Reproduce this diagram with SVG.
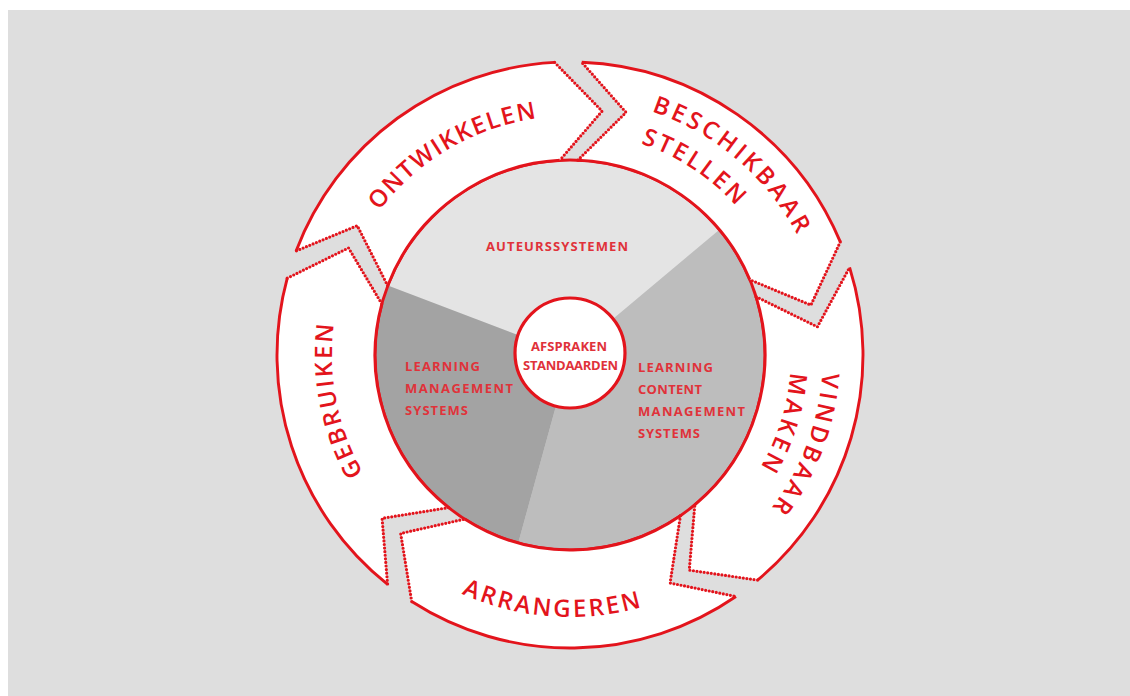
<svg xmlns="http://www.w3.org/2000/svg" width="1130" height="696" viewBox="0 0 1130 696">
  <style>
    .bg { fill: #dedede; }
    .body { fill: #ffffff; }
    .edge { fill: none; stroke: #e3141c; stroke-width: 2.9; }
    .dots { fill: none; stroke: #e3141c; stroke-width: 3.2; stroke-linecap: round; stroke-dasharray: 0 3.6; }
    .label { font-family: "Open Sans", "DejaVu Sans", sans-serif; font-weight: 600; font-size: 24px; fill: #e3141c; }
    .small { font-family: "Open Sans", "DejaVu Sans", sans-serif; font-weight: 700; font-size: 13px; fill: #e0323a; }
  </style>
  <defs>
    <!-- baseline arcs for the ring labels, centre (570,355) -->
    <path id="p-ontw" d="M352.50,255.89 A239,239 0 0 1 588.75,116.74"/>
    <path id="p-besch" d="M651.55,111.28 A257,257 0 0 1 823.10,310.37"/>
    <path id="p-stel" d="M640.76,143.53 A223,223 0 0 1 789.61,316.28"/>
    <path id="p-vind" d="M822.38,372.65 A253,253 0 0 1 656.53,592.74"/>
    <path id="p-maken" d="M790.32,372.34 A221,221 0 0 1 645.59,562.67"/>
    <path id="p-gebr" d="M405.27,526.78 A238,238 0 0 1 352.24,258.96"/>
    <path id="p-arr" d="M404.05,557.75 A262,262 0 0 0 703.77,580.28"/>
  </defs>

  <rect class="bg" x="8" y="10" width="1122" height="686"/>

  <!-- central disc split into three sectors -->
  <g id="sector-auteurs">
    <path d="M570,355 L387.83,285.44 A195,195 0 0 1 719.38,229.66 Z" fill="#e4e4e4"/>
    <text class="small" x="486" y="251" textLength="142" lengthAdjust="spacing">AUTEURSSYSTEMEN</text>
  </g>
  <g id="sector-lcms">
    <path d="M570,355 L719.38,229.66 A195,195 0 0 1 518.22,543.00 Z" fill="#bdbdbd"/>
    <text class="small" x="638" y="372" textLength="75" lengthAdjust="spacing">LEARNING</text>
    <text class="small" x="638" y="394" textLength="64" lengthAdjust="spacing">CONTENT</text>
    <text class="small" x="638" y="416" textLength="107" lengthAdjust="spacing">MANAGEMENT</text>
    <text class="small" x="638" y="438" textLength="62" lengthAdjust="spacing">SYSTEMS</text>
  </g>
  <g id="sector-lms">
    <path d="M570,355 L518.22,543.00 A195,195 0 0 1 387.83,285.44 Z" fill="#a3a3a3"/>
    <text class="small" x="405" y="371" textLength="75" lengthAdjust="spacing">LEARNING</text>
    <text class="small" x="405" y="393" textLength="108" lengthAdjust="spacing">MANAGEMENT</text>
    <text class="small" x="405" y="415" textLength="63" lengthAdjust="spacing">SYSTEMS</text>
  </g>
  <circle class="edge" cx="570" cy="355" r="195"/>

  <g id="hub">
    <circle cx="570" cy="353" r="55" fill="#ffffff" stroke="#e3141c" stroke-width="3.2"/>
    <text class="small" x="531" y="351" textLength="76" lengthAdjust="spacing">AFSPRAKEN</text>
    <text class="small" x="523" y="370" textLength="95" lengthAdjust="spacing">STANDAARDEN</text>
  </g>

  <!-- ring of five chevron arrows, running clockwise -->
  <g id="ontwikkelen">
    <path class="body" d="M296.09,250.95 A293,293 0 0 1 554.66,62.40 L602.11,111.11 L559.79,160.27 A195,195 0 0 0 387.71,285.75 L357.24,225.64 Z"/>
    <path class="edge" d="M296.09,250.95 A293,293 0 0 1 554.66,62.40 M559.79,160.27 A195,195 0 0 0 387.71,285.75"/>
    <path class="dots" d="M554.66,62.40 L602.11,111.11 L559.79,160.27 M387.71,285.75 L357.24,225.64 L296.09,250.95"/>
    <text class="label"><textPath href="#p-ontw" startOffset="50%" text-anchor="middle" textLength="187" lengthAdjust="spacing">ONTWIKKELEN</textPath></text>
  </g>

  <g id="beschikbaar-stellen">
    <path class="body" d="M581.76,62.24 A293,293 0 0 1 840.30,241.93 L810.89,305.11 L749.90,279.75 A195,195 0 0 0 577.83,160.16 L626.01,112.38 Z"/>
    <path class="edge" d="M581.76,62.24 A293,293 0 0 1 840.30,241.93 M749.90,279.75 A195,195 0 0 0 577.83,160.16"/>
    <path class="dots" d="M840.30,241.93 L810.89,305.11 L749.90,279.75 M577.83,160.16 L626.01,112.38 L581.76,62.24"/>
    <text class="label"><textPath href="#p-besch" textLength="195" lengthAdjust="spacing">BESCHIKBAAR</textPath></text>
    <text class="label"><textPath href="#p-stel" textLength="115" lengthAdjust="spacing">STELLEN</textPath></text>
  </g>

  <g id="vindbaar-maken">
    <path class="body" d="M849.59,267.38 A293,293 0 0 1 757.55,580.11 L689.26,570.16 L694.82,504.81 A195,195 0 0 0 756.08,296.69 L817.40,326.81 Z"/>
    <path class="edge" d="M849.59,267.38 A293,293 0 0 1 757.55,580.11 M694.82,504.81 A195,195 0 0 0 756.08,296.69"/>
    <path class="dots" d="M757.55,580.11 L689.26,570.16 L694.82,504.81 M756.08,296.69 L817.40,326.81 L849.59,267.38"/>
    <text class="label"><textPath href="#p-vind" textLength="146" lengthAdjust="spacing">VINDBAAR</textPath></text>
    <text class="label"><textPath href="#p-maken" textLength="100" lengthAdjust="spacing">MAKEN</textPath></text>
  </g>

  <g id="arrangeren">
    <path class="body" d="M735.96,596.47 A293,293 0 0 1 411.71,601.56 L400.67,533.44 L464.65,519.09 A195,195 0 0 0 680.45,515.71 L670.09,583.00 Z"/>
    <path class="edge" d="M735.96,596.47 A293,293 0 0 1 411.71,601.56 M464.65,519.09 A195,195 0 0 0 680.45,515.71"/>
    <path class="dots" d="M411.71,601.56 L400.67,533.44 L464.65,519.09 M680.45,515.71 L670.09,583.00 L735.96,596.47"/>
    <text class="label"><textPath href="#p-arr" startOffset="50%" text-anchor="middle" textLength="184" lengthAdjust="spacing">ARRANGEREN</textPath></text>
  </g>

  <g id="gebruiken">
    <path class="body" d="M387.60,584.30 A293,293 0 0 1 287.25,278.18 L348.52,247.93 L381.82,303.87 A195,195 0 0 0 448.61,507.61 L382.08,518.36 Z"/>
    <path class="edge" d="M387.60,584.30 A293,293 0 0 1 287.25,278.18 M381.82,303.87 A195,195 0 0 0 448.61,507.61"/>
    <path class="dots" d="M287.25,278.18 L348.52,247.93 L381.82,303.87 M448.61,507.61 L382.08,518.36 L387.60,584.30"/>
    <text class="label"><textPath href="#p-gebr" startOffset="50%" text-anchor="middle" textLength="154" lengthAdjust="spacing">GEBRUIKEN</textPath></text>
  </g>
</svg>
